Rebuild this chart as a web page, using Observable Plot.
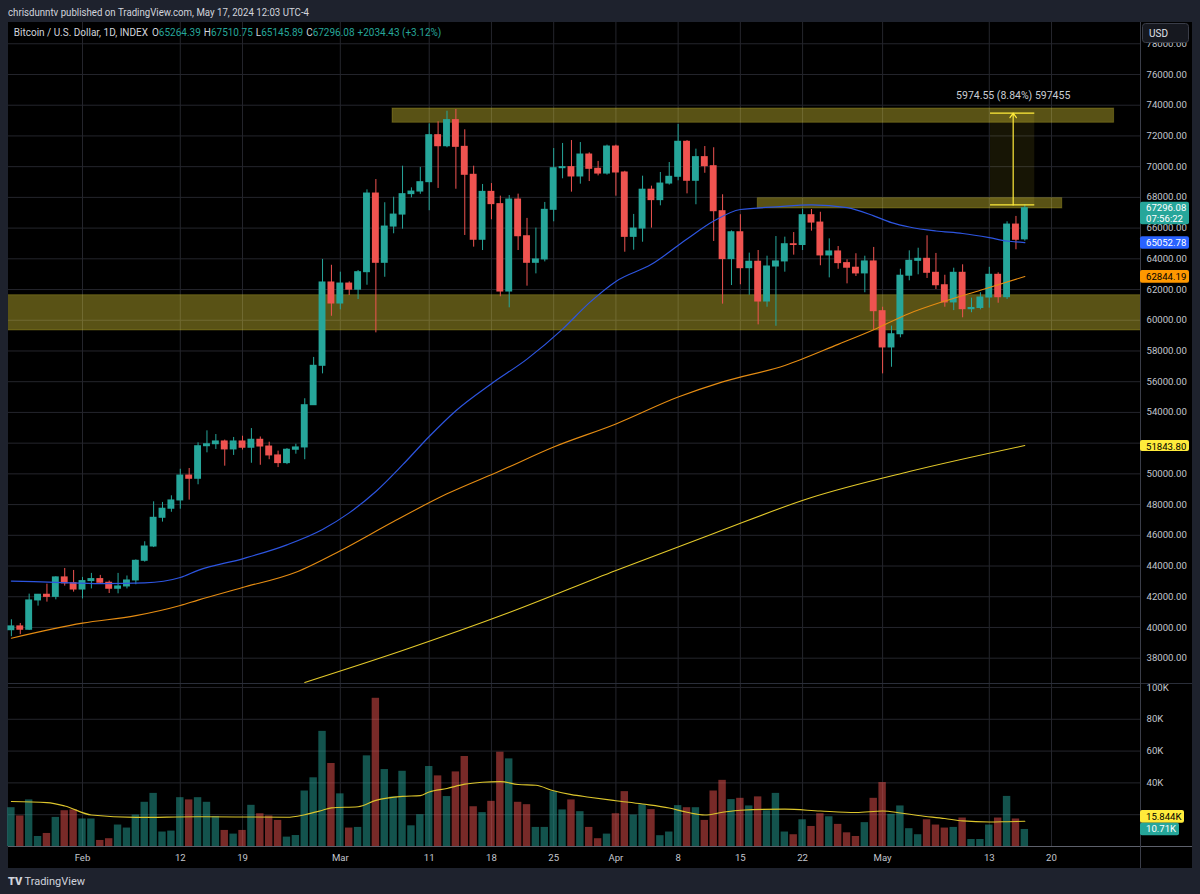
<!DOCTYPE html>
<html>
<head>
<meta charset="utf-8">
<script src="https://cdn.jsdelivr.net/npm/d3@7"></script>
<script src="https://cdn.jsdelivr.net/npm/@observablehq/plot@0.6"></script>
<style>
  html,body{margin:0;padding:0;}
  body{width:1200px;height:894px;background:#1e222d;position:relative;overflow:hidden;font-family:Roboto,"Liberation Sans",sans-serif;}
  #panel{position:absolute;left:8px;top:22px;width:1184px;height:846px;background:#000;}
  .pane{position:absolute;left:0;}
  #pricePane{top:22px;}
  #volPane{top:683px;}
  #overlay{position:absolute;left:0;top:0;}
</style>
</head>
<body>
<div id="panel"></div>
<div id="pricePane" class="pane"></div>
<div id="volPane" class="pane"></div>
<svg id="overlay" width="1200" height="894"></svg>
<script>
// ---------------- DATA ----------------
const firstDay = "2024-01-24";   // first daily candle (one candle per day through May 17)
const open = [39820,40070,39850,41760,42130,41990,43260,42880,
  42470,43020,43150,42910,42520,42670,43060,44340,45270,47140,47730,48270,49890,49680,51800,51930,52110,51590,52110,51700,52220,51780,51200,50700,51570,51720,54470,57035,62460,
  61090,62390,61990,63130,68250,63740,66100,66880,68210,68380,68990,72050,71330,73030,71290,69470,65240,68360,67560,61870,67860,65470,63740,63960,67190,69900,69970,69360,70790,69860,69550,
  71310,69620,65430,65970,68500,67820,68900,69340,71620,69080,70620,70030,67100,63980,65730,63390,63810,61220,63500,63830,64950,64900,66840,66360,64220,64480,63720,63420,63050,63830,
  60590,58230,59090,62900,63870,64000,63090,62280,61160,63090,60720,60800,61480,62960,61500,66230,65264.39];
const high = [40500,40260,42170,42150,42820,43300,43840,43710,
  43260,43520,43390,43020,43520,43350,44400,45580,48180,48140,48570,50300,50350,52020,52800,52560,52200,52370,52450,52950,52400,52060,51480,51650,51930,54890,57580,63960,63580,
  63130,62500,63240,68490,69160,67650,68010,70030,68620,69950,72790,72920,73610,73720,72400,70030,68840,68900,68080,68120,68210,66630,66000,67670,71180,71510,71700,71570,70900,70340,71400,
  71400,69700,66890,69380,68730,69620,70270,72750,71700,71140,71310,71230,68170,65820,66870,64370,64540,64170,65450,65410,65710,67230,67210,67030,65300,64800,63940,64330,64170,64740,
  60850,59620,63320,64520,64690,65500,64350,62930,63390,63610,61440,61790,63450,63090,66410,66760,67510.75];
const low = [39400,39530,39800,41390,41650,41800,42690,42300,
  41860,42510,42850,42210,42190,42510,42780,44250,45200,46860,47500,47700,48290,49290,51370,51590,50500,51200,51550,50690,50560,50920,50410,50600,51280,50920,54450,56510,60260,
  60680,61610,61350,62280,59180,62800,65630,65930,67970,68200,67130,68580,71230,68530,65520,64760,64540,66540,61530,60810,64540,62220,63020,63800,66410,69210,68340,68860,69030,69400,69450,
  68080,64430,64560,65080,66000,67450,68800,69080,68230,67520,69570,65130,61050,62260,62310,61630,59700,60850,59610,63130,64240,64540,65800,63550,62760,63320,62370,62850,61790,59330,
  56510,56940,58860,62570,62960,62720,62000,60850,60630,60160,60490,60680,60790,61110,61350,64590,65145.89];
const close = [40070,39850,41760,42130,41990,43260,42870,42470,
  43020,43150,42910,42520,42670,43060,44340,45270,47140,47730,48270,49890,49680,51800,51930,52110,51590,52110,51700,52220,51780,51200,50700,51570,51720,54470,57035,62460,61090,
  62390,61990,63130,68250,63740,66100,66880,68210,68380,68990,72050,71330,73030,71290,69470,65240,68360,67560,61870,67860,65470,63740,63960,67190,69900,69970,69360,70790,69860,69550,71310,
  69620,65430,65970,68500,67820,68900,69340,71620,69080,70620,70030,67100,63980,65730,63390,63810,61220,63500,63830,64950,64900,66840,66360,64220,64480,63720,63420,63050,63830,60590,
  58230,59090,62900,63870,64000,63090,62280,61160,63090,60720,60800,61480,62960,61500,66230,65240,67296.08];
// volume, thousands
const volume = [24.4,19.2,29.3,6.3,8.2,18.3,22.5,23.0,
  17.3,17.3,3.8,4.9,13.5,11.6,19.8,27.8,33.4,9.1,9.7,30.7,29.3,30.7,27.8,18.9,10.1,7.8,10.1,25.9,20.6,19.2,16.4,5.9,6.9,34.9,43.2,72.4,52.2,
  33.1,11.6,12.0,57.0,93.2,48.4,31.2,47.3,13.0,20.0,50.3,44.4,31.4,46.9,56.6,25.0,21.3,28.4,59.3,55.1,27.8,26.3,12.0,12.0,34.5,23.0,29.3,21.9,12.0,4.9,7.8,
  20.6,34.5,19.8,26.3,23.2,6.8,9.1,25.7,24.4,24.4,16.4,34.9,41.6,29.5,30.3,25.5,31.2,22.5,33.4,9.1,7.4,16.8,12.6,20.6,18.7,13.9,8.6,6.3,15.0,30.3,
  40.2,20.2,25.5,11.2,7.4,16.8,13.5,11.6,12.0,17.9,4.4,4.4,13.5,17.9,31.5,17.3,10.71];

// moving averages
const ma50Dates = ["2024-01-24","2024-01-29","2024-02-03","2024-02-08","2024-02-12","2024-02-14","2024-02-19","2024-02-24","2024-02-28","2024-03-02","2024-03-05","2024-03-08","2024-03-11","2024-03-14","2024-03-18","2024-03-22","2024-03-26","2024-03-29","2024-04-01","2024-04-05","2024-04-09","2024-04-12","2024-04-15","2024-04-19","2024-04-23","2024-04-27","2024-04-30","2024-05-02","2024-05-04","2024-05-07","2024-05-10","2024-05-13","2024-05-15","2024-05-17"];
const ma50Values = [43020,42940,42860,42900,43250,43720,44470,45380,46380,47460,48850,50580,52430,54110,55870,57470,59420,61130,62530,63640,65290,66460,67210,67380,67510,67330,66800,66360,66070,65810,65650,65380,65160,65052.78];
const ma100Dates = ["2024-01-24","2024-02-01","2024-02-07","2024-02-12","2024-02-14","2024-02-19","2024-02-25","2024-03-01","2024-03-07","2024-03-13","2024-03-19","2024-03-25","2024-04-01","2024-04-08","2024-04-13","2024-04-20","2024-04-26","2024-04-30","2024-05-04","2024-05-08","2024-05-12","2024-05-17"];
const ma100Values = [39300,40280,40770,41430,41780,42600,43600,45000,46900,48700,50200,51750,53250,55000,55990,57060,58430,59380,60440,61250,61960,62844.19];
const ma200Dates = ["2024-02-26","2024-03-08","2024-03-20","2024-04-01","2024-04-12","2024-04-23","2024-05-04","2024-05-17"];
const ma200Values = [36420,38500,40970,43710,46120,48460,50150,51843.80];
const volMaDates = ["2024-01-24","2024-01-28","2024-01-30","2024-02-02","2024-02-07","2024-02-14","2024-02-24","2024-02-26","2024-02-28","2024-02-29","2024-03-03","2024-03-05","2024-03-08","2024-03-10","2024-03-11","2024-03-13","2024-03-15","2024-03-17","2024-03-19","2024-03-21","2024-03-23","2024-03-25","2024-03-27","2024-03-29","2024-04-01","2024-04-04","2024-04-07","2024-04-09","2024-04-11","2024-04-13","2024-04-15","2024-04-20","2024-04-24","2024-04-28","2024-05-01","2024-05-03","2024-05-05","2024-05-08","2024-05-10","2024-05-13","2024-05-15","2024-05-17"];
const volMaValues = [28.3,27.6,25.5,19.8,18.3,18.7,18.4,20.0,22.8,24.3,25.0,29.0,31.5,32.0,34.3,36.5,39.2,40.4,40.8,39.0,38.5,35.0,32.6,31.0,28.8,26.7,24.2,21.5,19.8,21.5,22.8,23.5,22.3,21.4,22.3,21.1,19.5,17.6,16.1,15.4,15.6,15.844];

// horizontal zones drawn on the chart
const zoneFrom = ["2024-03-06T21:00Z","2024-04-16T23:00Z","2024-01-01T00:00Z"];
const zoneTo   = ["2024-05-27T01:00Z","2024-05-21T05:00Z","2024-06-30T00:00Z"];
const zoneLow  = [72856,67277,59334];
const zoneHigh = [73787,67947,61632];

// measure tool
const measureFrom = "2024-05-13T03:20Z", measureTo = "2024-05-18T02:50Z", measureAt = "2024-05-15T16:30Z";
const measureLow = 67510.75, measureHigh = 73485.30;
const measureLabel = "5974.55 (8.84%) 597455";

// axes
const priceTicks = [38000,40000,42000,44000,46000,48000,50000,52000,54000,56000,58000,60000,62000,64000,66000,68000,70000,72000,74000,76000,78000];
const priceTickLabels = [38000,40000,42000,44000,46000,48000,50000,54000,56000,58000,60000,62000,64000,66000,68000,70000,72000,74000,76000,78000];
const volTicks = [20,40,60,80,100];
const volTickLabels = [40,60,80,100];
const dateTicks = ["2024-02-01","2024-02-12","2024-02-19","2024-03-01","2024-03-11","2024-03-18","2024-03-25","2024-04-01","2024-04-08","2024-04-15","2024-04-22","2024-05-01","2024-05-13","2024-05-20"];
const xDomain = ["2024-01-23T16:13Z","2024-05-30T00:14Z"];
const priceDomain = [36352, 79385];
const volDomain = [0, 102.5];

// last-value labels
const lastClose = 67296.08, countdown = "07:56:22", lastMa50 = 65052.78, lastMa100 = 62844.19, lastMa200 = 51843.80;
const lastVolMa = 15.844, lastVol = 10.71;
const changeText = "+2034.43 (+3.12%)";

// ---------------- BUILD ----------------
const FONT = "Roboto, 'Liberation Sans', sans-serif";
const TEAL = "#26a69a", RED = "#ef5350", GRID = "#24252c", ZONE = "#ffeb3b";
const P = s => new Date(s);
const days = d3.utcDay.range(P(firstDay + "T00:00Z"), d3.utcDay.offset(P(firstDay + "T00:00Z"), open.length));
const candles = days.map((d, i) => ({date: d, open: open[i], high: high[i], low: low[i], close: close[i], volume: volume[i], up: close[i] >= open[i]}));
const upC = candles.filter(d => d.up), dnC = candles.filter(d => !d.up);
const hr = (d, h) => d3.utcMinute.offset(d, Math.round(h * 60));
const series = (ds, vs) => ds.map((d, i) => ({date: P(d + (d.length === 10 ? "T00:00Z" : "")), value: vs[i]}));
const ma50 = series(ma50Dates, ma50Values), ma100 = series(ma100Dates, ma100Values), ma200 = series(ma200Dates, ma200Values);
const volMa = series(volMaDates, volMaValues);
const zones = zoneFrom.map((f, i) => ({from: P(f), to: P(zoneTo[i]), low: zoneLow[i], high: zoneHigh[i]}));
const measure = {from: P(measureFrom), to: P(measureTo), at: P(measureAt), low: measureLow, high: measureHigh, label: measureLabel};
const gridDates = dateTicks.map(d => P(d + "T00:00Z"));
const xd = xDomain.map(P);
const BODY = 9.3, BAR = 10;

const price = Plot.plot({
  width: 1200, height: 661,
  marginLeft: 8, marginRight: 60, marginTop: 0, marginBottom: 0,
  style: {background: "transparent", color: "#c3c6ce", fontFamily: FONT, fontSize: "9.6px"},
  x: {type: "utc", domain: xd, axis: null},
  y: {domain: priceDomain},
  marks: [
    Plot.ruleY(priceTicks, {stroke: GRID}),
    Plot.ruleX(gridDates, {stroke: GRID}),
    Plot.rect(zones, {x1: "from", x2: "to", y1: "low", y2: "high", fill: ZONE, fillOpacity: 0.35, stroke: ZONE, strokeOpacity: 0.22, clip: true}),
    Plot.rect([measure], {x1: "from", x2: "to", y1: "low", y2: "high", fill: ZONE, fillOpacity: 0.09}),
    Plot.ruleX(upC, {x: "date", y1: "low", y2: "high", stroke: TEAL}),
    Plot.ruleX(dnC, {x: "date", y1: "low", y2: "high", stroke: RED}),
    Plot.rect(upC, {x1: d => hr(d.date, -BODY), x2: d => hr(d.date, BODY), y1: "open", y2: "close", fill: TEAL, insetTop: -0.5, insetBottom: -0.5}),
    Plot.rect(dnC, {x1: d => hr(d.date, -BODY), x2: d => hr(d.date, BODY), y1: "open", y2: "close", fill: RED, insetTop: -0.5, insetBottom: -0.5}),
    Plot.line(ma200, {x: "date", y: "value", stroke: "#e3c92a", strokeWidth: 1.1, curve: "monotone-x", clip: true}),
    Plot.line(ma100, {x: "date", y: "value", stroke: "#e58c12", strokeWidth: 1.1, curve: "monotone-x", clip: true}),
    Plot.line(ma50, {x: "date", y: "value", stroke: "#2d55e0", strokeWidth: 1.2, curve: "monotone-x", clip: true}),
    Plot.ruleY([measure], {y: "low", x1: "from", x2: "to", stroke: "#ffeb3b", strokeWidth: 1.3}),
    Plot.ruleY([measure], {y: "high", x1: "from", x2: "to", stroke: "#ffeb3b", strokeWidth: 1.3}),
    Plot.arrow([measure], {x1: "at", x2: "at", y1: "low", y2: "high", stroke: "#ffeb3b", strokeWidth: 1.2, headLength: 7, headAngle: 70}),
    Plot.text([measure], {x: "at", y: "high", text: "label", dy: -17, fill: "#c9ccd3", fontSize: 10.5}),
    Plot.axisY(priceTickLabels, {anchor: "right", tickSize: 0, tickPadding: 6, tickFormat: d => d.toFixed(2), label: null})
  ]
});
document.getElementById("pricePane").appendChild(price);

const fmtDate = d => d.getUTCDate() === 1 ? d3.utcFormat("%b")(d) : String(d.getUTCDate());
const vol = Plot.plot({
  width: 1200, height: 185,
  marginLeft: 8, marginRight: 60, marginTop: 0, marginBottom: 22,
  style: {background: "transparent", color: "#c3c6ce", fontFamily: FONT, fontSize: "9.6px"},
  x: {type: "utc", domain: xd},
  y: {domain: volDomain},
  marks: [
    Plot.ruleY(volTicks, {stroke: GRID}),
    Plot.ruleX(gridDates, {stroke: GRID}),
    Plot.rect(upC, {x1: d => hr(d.date, -BAR), x2: d => hr(d.date, BAR), y1: 0, y2: "volume", fill: TEAL, fillOpacity: 0.5}),
    Plot.rect(dnC, {x1: d => hr(d.date, -BAR), x2: d => hr(d.date, BAR), y1: 0, y2: "volume", fill: RED, fillOpacity: 0.5}),
    Plot.line(volMa, {x: "date", y: "value", stroke: "#dcc52c", strokeWidth: 1.1, curve: "monotone-x"}),
    Plot.axisY(volTickLabels, {anchor: "right", tickSize: 0, tickPadding: 6, tickFormat: d => d + "K", label: null}),
    Plot.axisX(gridDates, {anchor: "bottom", tickSize: 0, tickPadding: 7.5, tickFormat: fmtDate, label: null})
  ]
});
document.getElementById("volPane").appendChild(vol);

// ---------------- OVERLAY (frame lines, header, last-value labels) ----------------
const yP = v => 22 + price.scale("y").apply(v);
const yV = v => 683 + vol.scale("y").apply(v);
const svg = d3.select("#overlay").attr("font-family", FONT);

svg.append("line").attr("x1", 8).attr("x2", 1192).attr("y1", 683.5).attr("y2", 683.5).attr("stroke", "#2a2e39");
svg.append("line").attr("x1", 8).attr("x2", 1192).attr("y1", 846.5).attr("y2", 846.5).attr("stroke", "#5d606b");
svg.append("line").attr("x1", 1140.5).attr("x2", 1140.5).attr("y1", 22).attr("y2", 868).attr("stroke", "#3a3d48");

// header
svg.append("text").attr("x", 8).attr("y", 12.5).attr("dy", "0.35em").attr("font-size", "10.5px").attr("fill", "#d1d4dc")
  .attr("textLength", 301).attr("lengthAdjust", "spacingAndGlyphs")
  .text("chrisdunntv published on TradingView.com, May 17, 2024 12:03 UTC-4");

// legend row: separate pieces laid out one after another
const legParts = [
  ["Bitcoin / U.S. Dollar, 1D, INDEX", "#d1d4dc", 4],
  ["O", "#d1d4dc", 0], [open[open.length - 1].toFixed(2), TEAL, 3],
  ["H", "#d1d4dc", 0], [high[high.length - 1].toFixed(2), TEAL, 3],
  ["L", "#d1d4dc", 0], [low[low.length - 1].toFixed(2), TEAL, 3],
  ["C", "#d1d4dc", 0], [close[close.length - 1].toFixed(2), TEAL, 3],
  [changeText, TEAL, 0]];
const legG = svg.append("g");
function layoutLegend(fs) {
  legG.selectAll("*").remove();
  let x = 13.8;
  legParts.forEach(([t, c, gap]) => {
    const el = legG.append("text").attr("x", x).attr("y", 33).attr("dy", "0.35em").attr("font-size", fs + "px").attr("fill", c).text(t);
    x += el.node().getComputedTextLength() + gap;
  });
  return x - 13.8;
}
const w0 = layoutLegend(10.5);
layoutLegend(Math.max(8, Math.min(12, 10.5 * 427 / w0)));

// USD button
svg.append("rect").attr("x", 1142.5).attr("y", 23.5).attr("width", 46).attr("height", 19).attr("rx", 3).attr("fill", "#16181f").attr("stroke", "#3a3d48");
svg.append("text").attr("x", 1149).attr("y", 33).attr("dy", "0.35em").attr("font-size", "10px").attr("fill", "#e0e3eb").text("USD");

function tag(yTop, h, w, fill, lines, color) {
  svg.append("rect").attr("x", 1140).attr("y", yTop).attr("width", w).attr("height", h).attr("rx", 2).attr("fill", fill);
  lines.forEach((t, i) => svg.append("text").attr("x", 1146).attr("y", yTop + 6.2 + i * 10.8).attr("dy", "0.35em")
    .attr("font-size", "9.6px").attr("fill", color).text(t));
}
tag(yP(lastClose) - 6, 22.5, 49, TEAL, [lastClose.toFixed(2), countdown], "#ffffff");
tag(yP(lastMa50) - 6, 12.6, 49, "#2962ff", [lastMa50.toFixed(2)], "#ffffff");
tag(yP(lastMa100) - 6, 12.6, 49, "#ff9800", [lastMa100.toFixed(2)], "#000000");
tag(yP(lastMa200) - 5, 11, 49, "#ffeb3b", [lastMa200.toFixed(2)], "#000000");
tag(yV(lastVol) - 6.3 - 12.6, 12.6, 44, "#ffeb3b", [lastVolMa + "K"], "#000000");
tag(yV(lastVol) - 6.3, 12.6, 39, TEAL, [lastVol + "K"], "#ffffff");

// footer logo
svg.append("text").attr("x", 8).attr("y", 881).attr("dy", "0.35em").attr("font-size", "11px").attr("font-weight", 900).attr("fill", "#d1d4dc").text("TV");
svg.append("text").attr("x", 24.5).attr("y", 881).attr("dy", "0.35em").attr("font-size", "11px").attr("fill", "#d1d4dc").text("TradingView");
</script>
</body>
</html>
